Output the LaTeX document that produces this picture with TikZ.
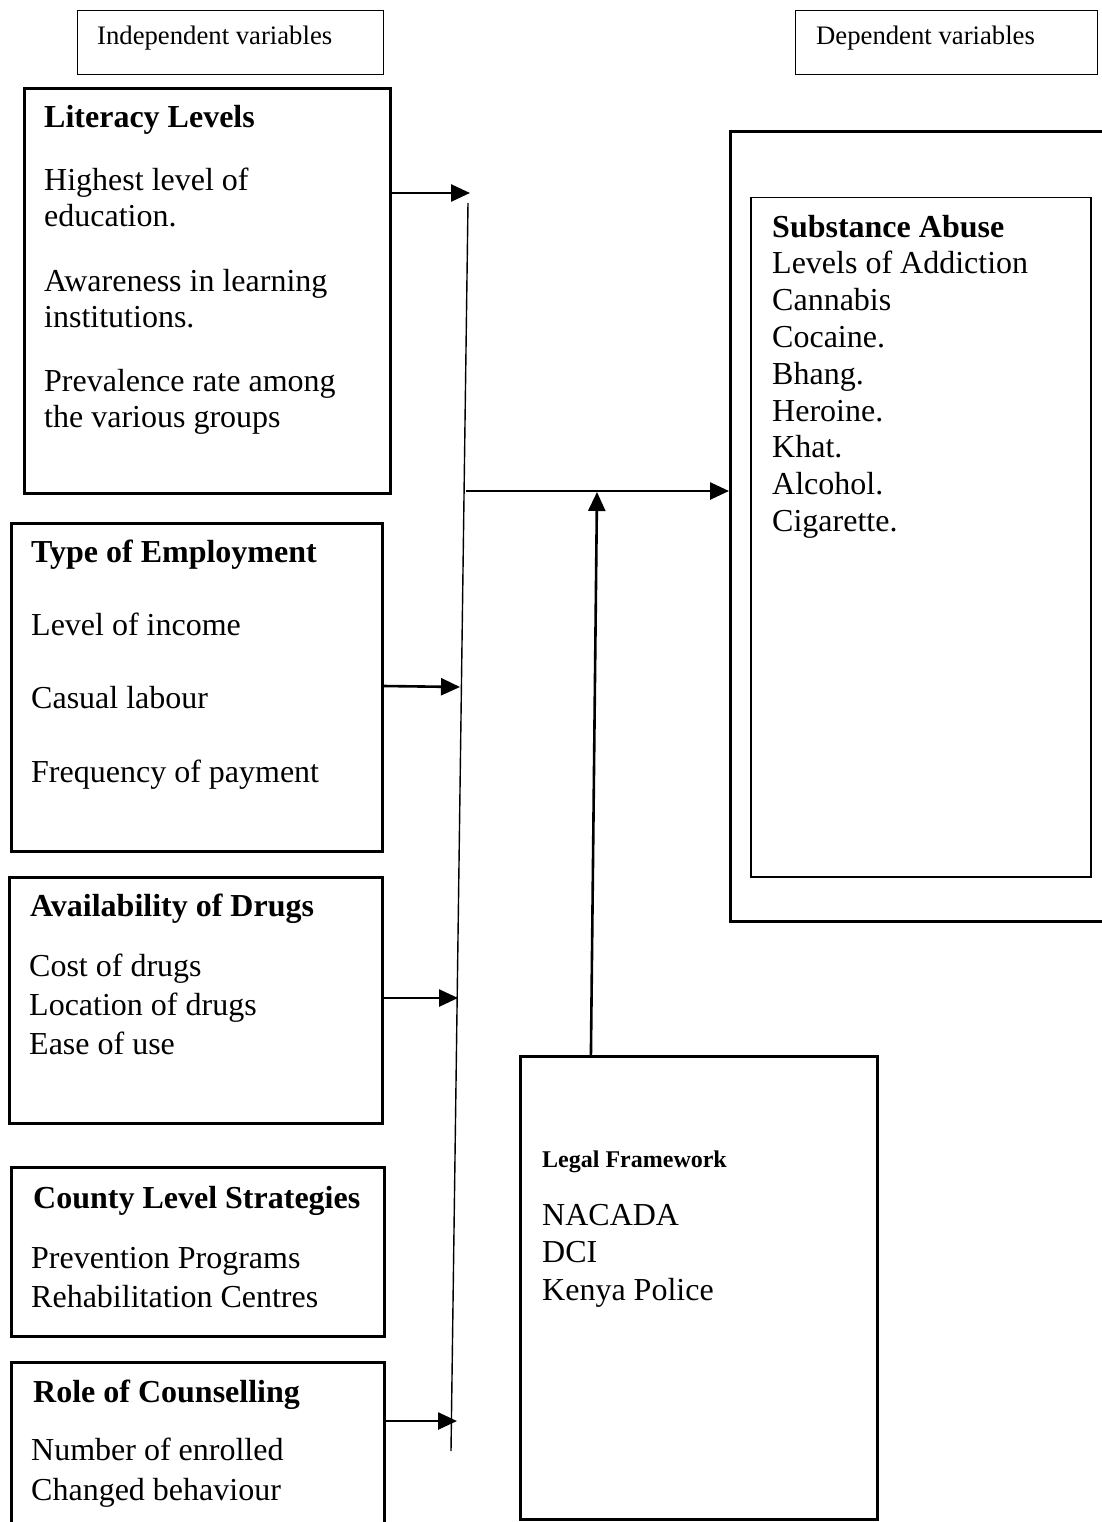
\documentclass[tikz,border=0pt]{standalone}
\usepackage{fontspec}
\setmainfont{Liberation Serif}
\usetikzlibrary{arrows.meta,calc}

\tikzset{
    box/.style={draw, line width=2.6pt, anchor=north west, inner sep=0pt},
    thinbox/.style={draw, line width=1.3pt, anchor=north west, inner sep=0pt},
    txt/.style={anchor=base west, inner sep=0pt, font=\fontsize{32}{36.8}\selectfont},
    head/.style={txt, font=\fontsize{32}{36.8}\selectfont\bfseries},
    arr/.style={line width=2.6pt, -{Triangle[length=19pt,width=17pt]}},
}

\begin{document}
\begin{tikzpicture}[x=1pt, y=-1pt]

    % Page
    \useasboundingbox (0,0) rectangle (1102,1522);
    \clip (0,0) rectangle (1102,1522);

    % Headings
    \node[thinbox, minimum width=306pt, minimum height=64pt] (indep) at (77,10) {};
    \node[txt, font=\fontsize{26.7}{30}\selectfont] (indeptxt) at (97,45) {Independent variables};
    \node[thinbox, minimum width=302pt, minimum height=64pt] (dep) at (795,10) {};
    \node[txt, font=\fontsize{26.7}{30}\selectfont] (deptxt) at (816,45) {Dependent variables};

    % Literacy levels
    \node[box, minimum width=366pt, minimum height=405pt] (litbox) at (23,87) {};
    \node[head] (lithead) at (44,128) {Literacy Levels};
    \node[txt] (lit1) at (44,191) {Highest level of};
    \node[txt] (lit2) at (44,227) {education.};
    \node[txt] (lit3) at (44,291) {Awareness in learning};
    \node[txt] (lit4) at (44,327) {institutions.};
    \node[txt] (lit5) at (44,391) {Prevalence rate among};
    \node[txt] (lit6) at (44,427) {the various groups};

    % Type of employment
    \node[box, minimum width=371pt, minimum height=328pt] (empbox) at (10,522) {};
    \node[head] (emphead) at (31,562) {Type of Employment};
    \node[txt] (emp1) at (31,635) {Level of income};
    \node[txt] (emp2) at (31,708) {Casual labour};
    \node[txt] (emp3) at (31,782) {Frequency of payment};

    % Availability of drugs
    \node[box, minimum width=373pt, minimum height=246pt] (avbox) at (8,876) {};
    \node[head] (avhead) at (30,916) {Availability of Drugs};
    \node[txt] (av1) at (29,976) {Cost of drugs};
    \node[txt] (av2) at (29,1015) {Location of drugs};
    \node[txt] (av3) at (29,1054) {Ease of use};

    % County level strategies
    \node[box, minimum width=373pt, minimum height=169pt] (cobox) at (10,1166) {};
    \node[head] (cohead) at (33,1208) {County Level Strategies};
    \node[txt] (co1) at (31,1268) {Prevention Programs};
    \node[txt] (co2) at (31,1307) {Rehabilitation Centres};

    % Role of counselling
    \node[box, minimum width=373pt, minimum height=190pt] (cnbox) at (10,1361) {};
    \node[head] (cnhead) at (33,1402) {Role of Counselling};
    \node[txt] (cn1) at (31,1460) {Number of enrolled};
    \node[txt] (cn2) at (31,1500) {Changed behaviour};

    % Substance abuse
    \node[box, minimum width=400pt, minimum height=790pt] (outer) at (729,130) {};
    \node[box, line width=1.5pt, minimum width=340pt, minimum height=679pt] (inner) at (750,197) {};
    \node[head] (subhead) at (772,237) {Substance Abuse};
    \foreach \t [count=\i] in {Levels of Addiction, Cannabis, Cocaine., Bhang., Heroine., Khat., Alcohol., Cigarette.}
        \node[txt] (sub\i) at (772,{237+36.8*\i}) {\t};

    % Legal framework
    \node[box, minimum width=357pt, minimum height=463pt] (legal) at (519,1055) {};
    \node[head, font=\fontsize{24}{28}\selectfont\bfseries] (leghead) at (542,1167) {Legal Framework};
    \node[txt] (leg1) at (542,1225) {NACADA};
    \node[txt] (leg2) at (542,1262) {DCI};
    \node[txt] (leg3) at (542,1300) {Kenya Police};

    % Collecting line
    \coordinate (bartop) at (468,203);
    \coordinate (barbot) at (451,1451);
    \draw[line width=1.4pt] (bartop) -- (barbot);

    % Arrows into the line
    \coordinate (t1) at (470,193);
    \coordinate (t2) at (460,687);
    \coordinate (t3) at (458,998);
    \coordinate (t4) at (457,1421);
    \draw[arr] (litbox.east |- t1) -- (t1);
    \draw[arr] (empbox.east |- 0,686) -- (t2);
    \draw[arr] (avbox.east |- t3) -- (t3);
    \draw[arr] (cnbox.east |- t4) -- (t4);

    % Arrows into substance abuse
    \coordinate (join) at (466,491);
    \coordinate (hit) at (597,492);
    \draw[arr] (join) -- (join -| outer.west);
    \draw[arr] ($(legal.north west)!0.2!(legal.north east)$) -- (hit);

\end{tikzpicture}
\end{document}
